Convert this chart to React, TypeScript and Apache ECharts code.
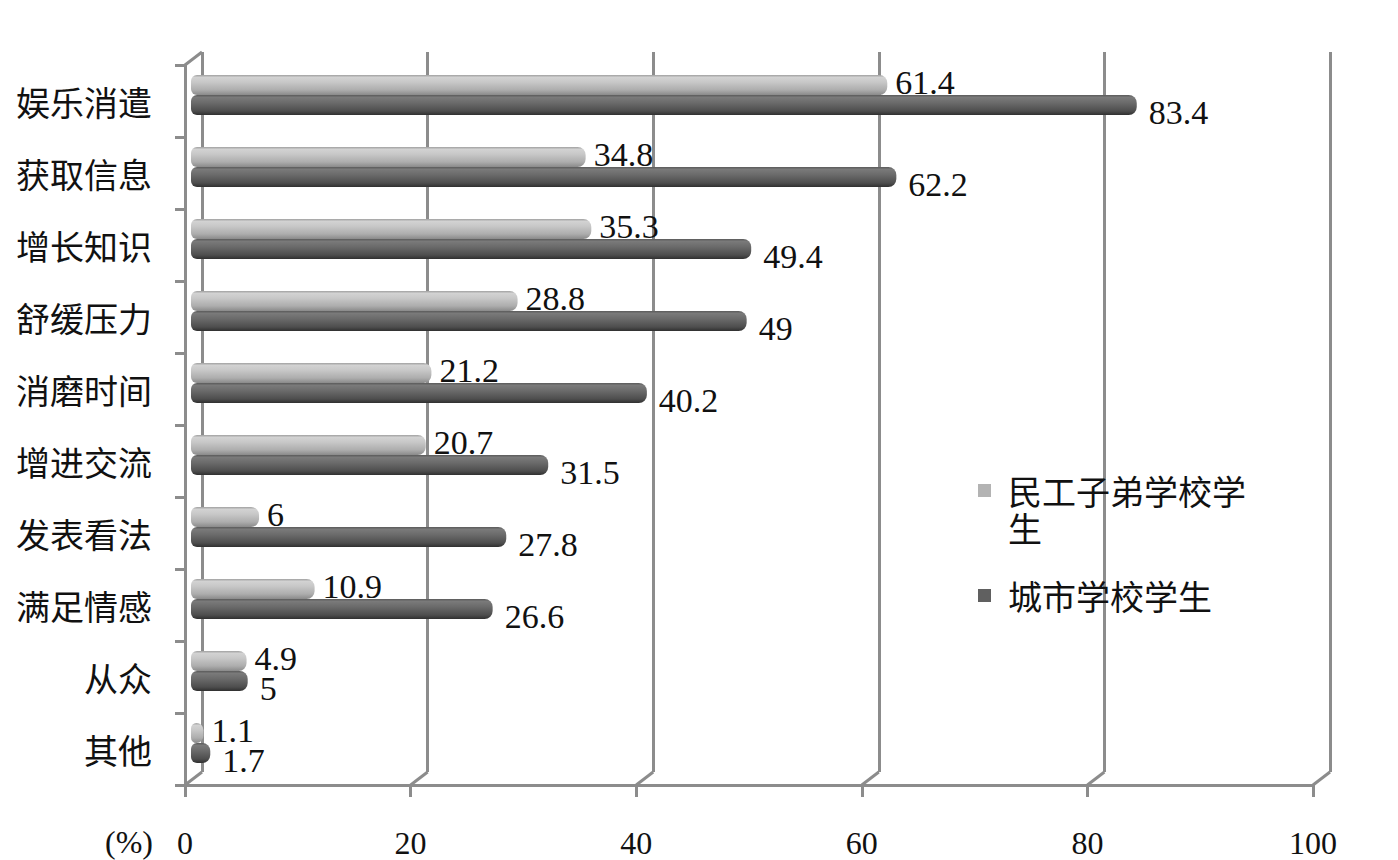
import React, { useEffect, useRef } from "react";
import * as echarts from "echarts";

const categories = ["娱乐消遣", "获取信息", "增长知识", "舒缓压力", "消磨时间", "增进交流", "发表看法", "满足情感", "从众", "其他"];
const migrantName = "民工子弟学校学生";
const urbanName = "城市学校学生";
const migrantValues = [61.4, 34.8, 35.3, 28.8, 21.2, 20.7, 6, 10.9, 4.9, 1.1];
const urbanValues = [83.4, 62.2, 49.4, 49, 40.2, 31.5, 27.8, 26.6, 5, 1.7];
const xTickValues = [0, 20, 40, 60, 80, 100];
const unitLabel = "(%)";

const AXIS_COLOR = "#8c8c8c";
const FRONT = { left: 185, right: 85, top: 65, bottom: 75 };
const BACK = { left: 202, right: 68, top: 52, bottom: 88 };
const BARS = { left: 191, right: 73, top: 59, bottom: 81 };
const W = 1398;
const H = 860;

const serif = "'Liberation Serif', 'DejaVu Serif', serif";
const cjk = "'Noto Sans CJK SC', 'Noto Sans', sans-serif";

const lightGrad = new echarts.graphic.LinearGradient(0, 0, 0, 1, [
  { offset: 0, color: "#a0a0a0" },
  { offset: 0.12, color: "#d2d2d2" },
  { offset: 0.35, color: "#c8c8c8" },
  { offset: 0.75, color: "#adadad" },
  { offset: 1, color: "#8a8a8a" },
]);
const darkGrad = new echarts.graphic.LinearGradient(0, 0, 0, 1, [
  { offset: 0, color: "#5a5a5a" },
  { offset: 0.12, color: "#7a7a7a" },
  { offset: 0.4, color: "#6a6a6a" },
  { offset: 0.8, color: "#4e4e4e" },
  { offset: 1, color: "#303030" },
]);

export default function App() {
  const ref = useRef<HTMLDivElement>(null);
  useEffect(() => {
    if (!ref.current) return;
    const chart = echarts.init(ref.current, undefined, { renderer: "svg" });
    const labelBase = {
      show: true,
      position: "right",
      fontSize: 34,
      lineHeight: 26,
      fontFamily: serif,
      color: "#111",
    };
    chart.setOption({
      animation: false,
      backgroundColor: "#ffffff",
      grid: [
        { ...FRONT, containLabel: false },
        { ...BACK, containLabel: false },
        { ...BARS, containLabel: false },
      ],
      xAxis: [
        {
          gridIndex: 0,
          type: "value",
          min: 0,
          max: 100,
          interval: 20,
          axisLine: { show: true, lineStyle: { color: AXIS_COLOR, width: 3 } },
          axisTick: { show: true, length: 12, lineStyle: { color: AXIS_COLOR, width: 3 } },
          axisLabel: { fontSize: 32, fontFamily: serif, color: "#111", margin: 42 },
          splitLine: { show: false },
        },
        {
          gridIndex: 1,
          type: "value",
          min: 0,
          max: 100,
          interval: 20,
          axisLine: { show: false },
          axisTick: { show: false },
          axisLabel: { show: false },
          splitLine: { show: true, lineStyle: { color: AXIS_COLOR, width: 3 } },
        },
        { gridIndex: 2, type: "value", min: 0, max: 100, show: false },
      ],
      yAxis: [
        {
          gridIndex: 0,
          type: "category",
          data: categories,
          inverse: true,
          axisLine: { show: true, lineStyle: { color: AXIS_COLOR, width: 3 } },
          axisTick: { show: true, length: 10, lineStyle: { color: AXIS_COLOR, width: 3 } },
          axisLabel: { fontSize: 34, fontFamily: cjk, color: "#111", margin: 33 },
          splitLine: { show: false },
        },
        { gridIndex: 1, type: "category", data: categories, inverse: true, show: false },
        { gridIndex: 2, type: "category", data: categories, inverse: true, show: false },
      ],
      legend: {
        orient: "vertical",
        left: 973,
        top: 430,
        itemWidth: 13,
        itemHeight: 13,
        itemGap: 31,
        icon: "rect",
        data: [
          { name: migrantName, itemStyle: { color: "#b3b3b3" } },
          { name: urbanName, itemStyle: { color: "#606060" } },
        ],
        formatter: (n: string) => (n === migrantName ? "\n民工子弟学校学\n生" : n),
        textStyle: { fontSize: 34, fontFamily: cjk, color: "#111", lineHeight: 37, padding: [0, 0, 0, 12] },
      },
      series: [
        {
          name: migrantName,
          type: "bar",
          xAxisIndex: 2,
          yAxisIndex: 2,
          data: migrantValues,
          barWidth: 20,
          barGap: "0%",
          itemStyle: { color: lightGrad, borderRadius: [6, 8, 8, 6] },
          label: { ...labelBase, distance: 8, offset: [0, -3] },
        },
        {
          name: urbanName,
          type: "bar",
          xAxisIndex: 2,
          yAxisIndex: 2,
          data: urbanValues,
          barWidth: 20,
          barGap: "0%",
          itemStyle: { color: darkGrad, borderRadius: [6, 8, 8, 6] },
          label: { ...labelBase, distance: 12, offset: [0, 7] },
        },
      ],
    });

    const frontBottom = H - FRONT.bottom;
    const backBottom = H - BACK.bottom;
    const lineStyle = { stroke: AXIS_COLOR, lineWidth: 3 };
    const graphics: any[] = [];
    xTickValues.forEach((v) => {
      const fx = chart.convertToPixel({ xAxisIndex: 0 }, v) as number;
      const bx = chart.convertToPixel({ xAxisIndex: 1 }, v) as number;
      graphics.push({
        type: "line",
        z: 1,
        shape: { x1: bx, y1: backBottom, x2: fx, y2: frontBottom },
        style: lineStyle,
      });
    });
    graphics.push({
      type: "line",
      z: 1,
      shape: { x1: FRONT.left, y1: FRONT.top, x2: BACK.left, y2: BACK.top },
      style: lineStyle,
    });
    graphics.push({
      type: "text",
      left: 105,
      top: 826,
      style: { text: unitLabel, fontSize: 32, fontFamily: serif, fill: "#111" },
    });
    chart.setOption({ graphic: graphics });

    return () => chart.dispose();
  }, []);
  return <div ref={ref} style={{ width: W, height: H, position: "absolute", left: 0, top: 0 }} />;
}
